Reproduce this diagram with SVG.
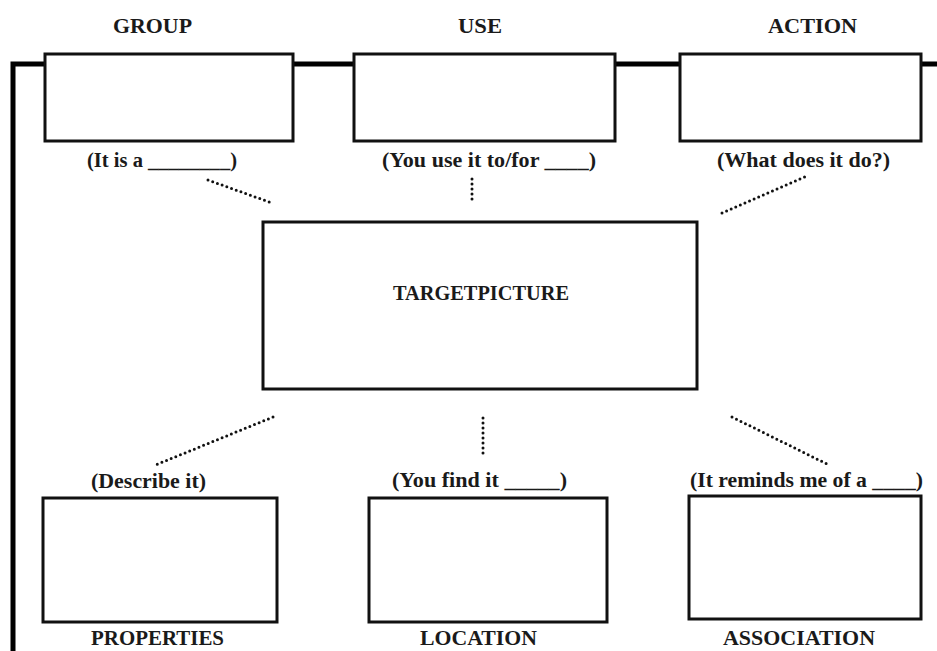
<svg xmlns="http://www.w3.org/2000/svg" width="937" height="651" viewBox="0 0 937 651">
<style>
.box{fill:#fff;stroke:#111;stroke-width:3}
.frame{fill:none;stroke:#000;stroke-width:5}
.dot{fill:none;stroke:#111;stroke-width:3;stroke-linecap:round;stroke-dasharray:0 5}
text{font-family:"Liberation Serif","Times New Roman",serif;font-weight:bold;fill:#1a1a1a}
.h{font-size:21px}
.s{font-size:20px}
</style>
<rect width="937" height="651" fill="#fff"/>
<path class="frame" d="M13,651 V64 H937"/>
<g id="connectors">
<line class="dot" x1="208" y1="180" x2="272" y2="203"/>
<line class="dot" x1="472" y1="179" x2="472" y2="203"/>
<line class="dot" x1="722" y1="213" x2="807" y2="176"/>
<line class="dot" x1="273" y1="417" x2="153" y2="466"/>
<line class="dot" x1="483" y1="418" x2="483" y2="456"/>
<line class="dot" x1="732" y1="417" x2="829" y2="465"/>
</g>
<g id="group">
<text class="h" x="113" y="33" textLength="79" lengthAdjust="spacingAndGlyphs">GROUP</text>
<rect class="box" x="45" y="54" width="248" height="87"/>
<text class="s" x="87" y="167" textLength="150" lengthAdjust="spacingAndGlyphs">(It is a ________)</text>
</g>
<g id="use">
<text class="h" x="458" y="33" textLength="44" lengthAdjust="spacingAndGlyphs">USE</text>
<rect class="box" x="354" y="54" width="261" height="87"/>
<text class="s" x="382" y="167" textLength="214" lengthAdjust="spacingAndGlyphs">(You use it to/for ____)</text>
</g>
<g id="action">
<text class="h" x="768" y="33" textLength="89" lengthAdjust="spacingAndGlyphs">ACTION</text>
<rect class="box" x="680" y="54" width="241" height="87"/>
<text class="s" x="717" y="167" textLength="173" lengthAdjust="spacingAndGlyphs">(What does it do?)</text>
</g>
<g id="target">
<rect class="box" x="263" y="222" width="434" height="167"/>
<text class="s" x="393" y="300" textLength="176" lengthAdjust="spacingAndGlyphs">TARGETPICTURE</text>
</g>
<g id="properties">
<text class="s" x="91" y="488" textLength="115" lengthAdjust="spacingAndGlyphs">(Describe it)</text>
<rect class="box" x="43" y="498" width="234" height="124"/>
<text class="h" x="91" y="645" textLength="133" lengthAdjust="spacingAndGlyphs">PROPERTIES</text>
</g>
<g id="location">
<text class="s" x="392" y="487" textLength="175" lengthAdjust="spacingAndGlyphs">(You find it _____)</text>
<rect class="box" x="369" y="498" width="238" height="124"/>
<text class="h" x="420" y="645" textLength="117" lengthAdjust="spacingAndGlyphs">LOCATION</text>
</g>
<g id="association">
<text class="s" x="690" y="487" textLength="233" lengthAdjust="spacingAndGlyphs">(It reminds me of a ____)</text>
<rect class="box" x="689" y="496" width="232" height="123"/>
<text class="h" x="723" y="645" textLength="152" lengthAdjust="spacingAndGlyphs">ASSOCIATION</text>
</g>
</svg>
